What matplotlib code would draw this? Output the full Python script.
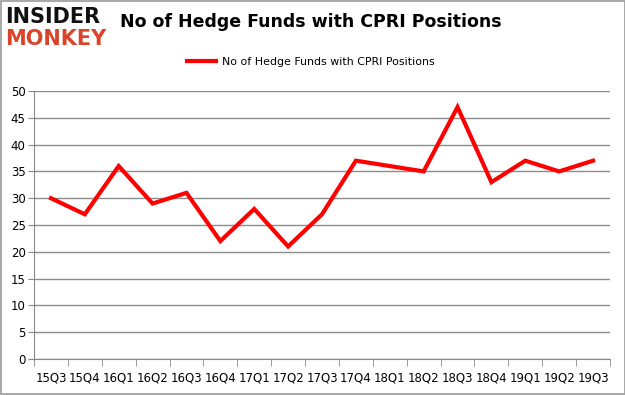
import matplotlib
matplotlib.use("Agg")
import matplotlib.pyplot as plt
from matplotlib.patches import Rectangle

quarters = ["15Q3", "15Q4", "16Q1", "16Q2", "16Q3", "16Q4", "17Q1", "17Q2", "17Q3",
            "17Q4", "18Q1", "18Q2", "18Q3", "18Q4", "19Q1", "19Q2", "19Q3"]
funds = [30, 27, 36, 29, 31, 22, 28, 21, 27, 37, 36, 35, 47, 33, 37, 35, 37]
yticks = [0, 5, 10, 15, 20, 25, 30, 35, 40, 45, 50]

fig = plt.figure(figsize=(6.25, 3.95), dpi=100)
ax = fig.add_axes([0.0544, 0.0911, 0.9216, 0.6785])

x = list(range(len(quarters)))
ax.plot(x, funds, color="#ff0000", linewidth=3, label="No of Hedge Funds with CPRI Positions",
        solid_joinstyle="miter")
ax.set_xlim(-0.5, len(quarters) - 0.5)
ax.set_ylim(0, 50)
ax.set_yticks(yticks)
ax.set_yticklabels([str(v) for v in yticks], fontsize=8.5)
ax.set_xticks(x)
ax.set_xticklabels(quarters, fontsize=8.5)
ax.set_xticks([i - 0.5 for i in range(len(quarters) + 1)], minor=True)
ax.tick_params(axis="x", which="major", length=0, pad=9)
ax.tick_params(axis="x", which="minor", length=5, color="#888888")
ax.tick_params(axis="y", length=4, color="#888888", pad=2)
ax.yaxis.grid(True, color="#8c8c8c", linewidth=1)
ax.set_axisbelow(True)
for s in ["top", "right"]:
    ax.spines[s].set_visible(False)
ax.spines["left"].set_color("#888888")
ax.spines["bottom"].set_color("#888888")

fig.text(0.498, 0.944, "No of Hedge Funds with CPRI Positions", ha="center", va="center",
         fontsize=12.5, fontweight="bold")
ax.legend(loc="center", bbox_to_anchor=(0.481, 1.108), frameon=False, fontsize=7.9,
          handlelength=2.6, handletextpad=0.6)

fig.text(0.008, 0.958, "INSIDER", fontsize=15, fontweight="bold", color="#111111",
         ha="left", va="center")
fig.text(0.008, 0.902, "MONKEY", fontsize=15, fontweight="bold", color="#d9442b",
         ha="left", va="center")

fig.patches.append(Rectangle((0.0008, 0.0013), 0.9984, 0.9974, transform=fig.transFigure,
                             fill=False, edgecolor="#999999", linewidth=1.2))

fig.savefig("out.png", dpi=100)
